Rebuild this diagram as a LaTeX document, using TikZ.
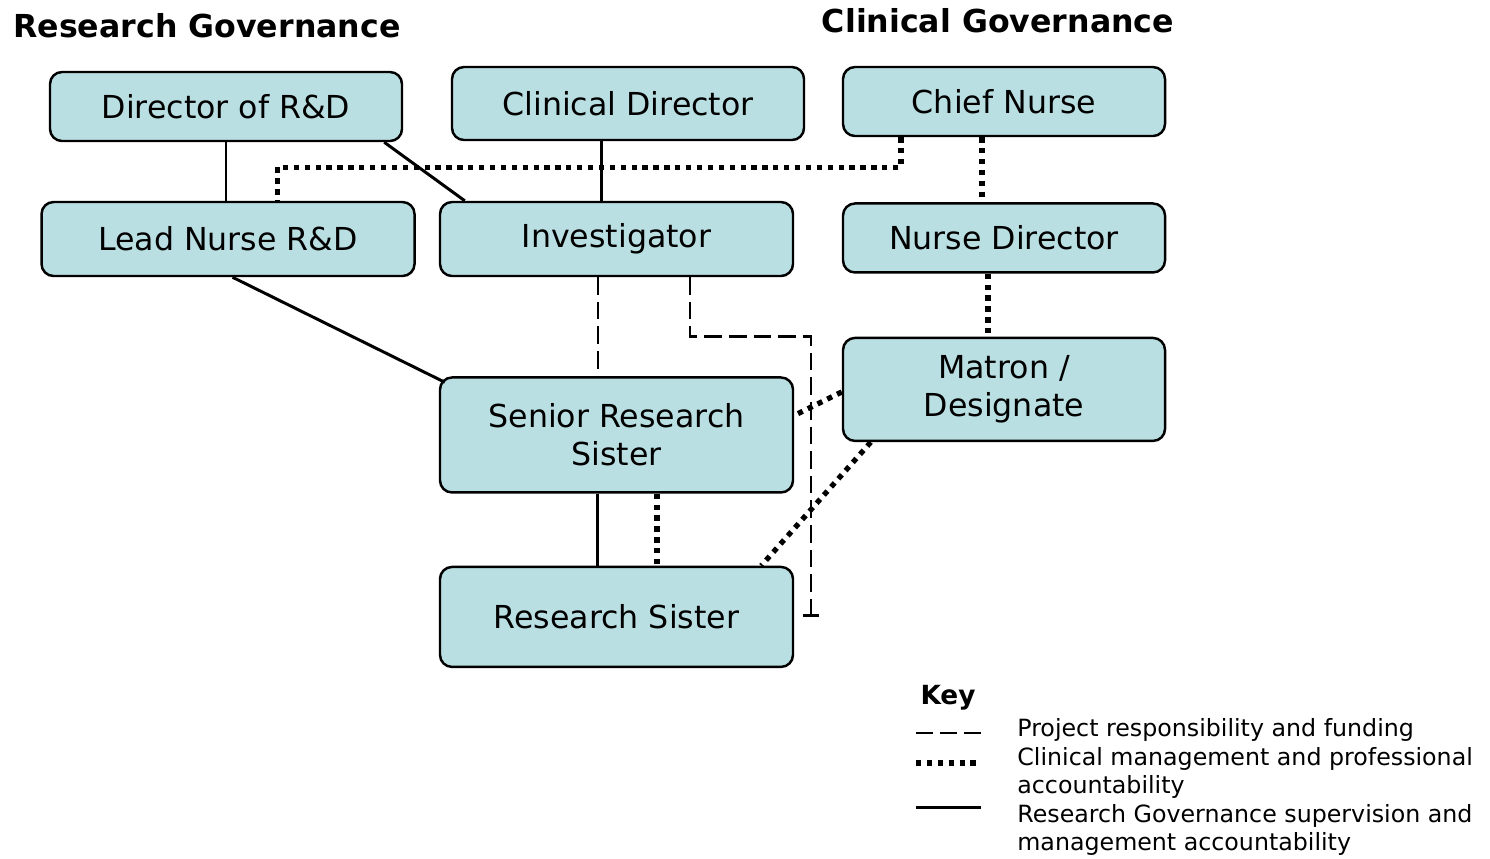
\documentclass[tikz,border=0pt]{standalone}
\usepackage{fontspec}
\setmainfont{DejaVu Sans}
\usepackage{tikz}
\usetikzlibrary{arrows.meta,calc,positioning}
\definecolor{boxfill}{HTML}{B9DFE2}

\begin{document}
\begin{tikzpicture}[auto,>=latex]
	\tikzstyle{block} = [draw, line width=1.4pt, rounded corners=0.24cm, fill=boxfill, align=center, font=\fontsize{18}{21.6}\selectfont]
	\tikzstyle{project} = [line width=1.4pt, dash pattern=on 10pt off 4pt]
	\tikzstyle{clinical} = [line width=3pt, dash pattern=on 3pt off 3.2pt]
	\tikzstyle{governance} = [line width=1.7pt]
	\tikzstyle{keytext} = [anchor=west, align=left, inner sep=0pt, font=\fontsize{13.5}{16.2}\selectfont]

	\useasboundingbox (0,0) rectangle (29.8,-17.16);

	\node [font=\fontsize{18}{21.6}\selectfont\bfseries] (rgtitle) at (4.14,-0.52) {Research Governance};
	\node [font=\fontsize{18}{21.6}\selectfont\bfseries] (cgtitle) at (19.96,-0.42) {Clinical Governance};

	\node [block, minimum width=7.04cm, minimum height=1.38cm] (dirrd) at (4.52,-2.13) {Director of R\&D};
	\node [block, minimum width=7.04cm, minimum height=1.46cm] (clindir) at (12.56,-2.07) {Clinical Director};
	\node [block, minimum width=6.44cm, minimum height=1.38cm] (chief) at (20.08,-2.03) {Chief Nurse};

	\node [block, minimum width=7.06cm, minimum height=1.48cm] (invest) at (12.33,-4.78) {Investigator};
	\node [block, minimum width=7.46cm, minimum height=1.48cm, left = 0.46cm of invest] (lead) {Lead Nurse R\&D};
	\node [block, minimum width=6.44cm, minimum height=1.38cm, below = 1.3cm of chief] (nursedir) {Nurse Director};
	\node [block, minimum width=6.44cm, minimum height=2.06cm, below = 1.26cm of nursedir] (matron) {Matron /\\ Designate};
	\node [block, minimum width=7.06cm, minimum height=2.3cm, below = 1.98cm of invest] (senior) {Senior Research\\ Sister};
	\node [block, minimum width=7.06cm, minimum height=2.0cm, below = 1.44cm of senior] (rsister) {Research Sister};

	% research governance lines
	\draw [governance] (dirrd.south) -- (dirrd.south |- lead.north);
	\draw [governance] ([xshift=-0.38cm]dirrd.south east) -- ([xshift=0.52cm]invest.north west);
	\draw [governance] ([xshift=-0.54cm]clindir.south) -- ([xshift=-0.54cm]clindir.south |- invest.north);
	\draw [governance] ([xshift=0.09cm]lead.south) -- ([shift={(0.12cm,-0.12cm)}]senior.north west);
	\draw [governance] ([xshift=-0.39cm]senior.south) -- ([xshift=-0.39cm]senior.south |- rsister.north);

	% clinical lines
	\draw [clinical] ([xshift=-2.06cm]chief.south) -- ++(0,-0.6) -| ([xshift=0.99cm]lead.north);
	\draw [clinical] ([xshift=-0.44cm]chief.south) -- ([xshift=-0.44cm]chief.south |- nursedir.north);
	\draw [clinical] ([xshift=-0.32cm]nursedir.south) -- ([xshift=-0.32cm]nursedir.south |- matron.north);
	\draw [clinical] ([yshift=-0.05cm]matron.west) -- ([yshift=0.39cm]senior.east);
	\draw [clinical] ([xshift=0.58cm]matron.south west) -- ([xshift=-0.66cm]rsister.north east);
	\draw [clinical] ([xshift=0.81cm]senior.south) -- ([xshift=0.81cm]senior.south |- rsister.north);

	% project lines
	\coordinate (turn) at ($(rsister.east |- matron.north)+(0.34,0)$);
	\draw [project] ([xshift=-0.37cm]invest.south) -- ([xshift=-0.37cm]invest.south |- senior.north);
	\draw [project, -{Bar[width=0.32cm, line width=1.4pt]}] ([xshift=1.47cm]invest.south) |- (turn) -- ([xshift=0.34cm]rsister.east);

	% key
	\node [font=\fontsize{15}{18}\selectfont\bfseries] (key) at (18.96,-13.96) {Key};
	\coordinate (k1a) at (18.32,-14.66);
	\coordinate (k1b) at (19.62,-14.66);
	\coordinate (k2a) at (18.32,-15.26);
	\coordinate (k2b) at (19.62,-15.26);
	\coordinate (k3a) at (18.32,-16.14);
	\coordinate (k3b) at (19.62,-16.14);
	\draw [project, dash pattern=on 9.6pt off 4pt] (k1a) -- (k1b);
	\draw [clinical] (k2a) -- (k2b);
	\draw [governance] (k3a) -- (k3b);
	\node [keytext] (key1) at (20.34,-14.6) {Project responsibility and funding};
	\node [keytext] (key2) at (20.34,-15.46) {Clinical management and professional\\ accountability};
	\node [keytext] (key3) at (20.34,-16.6) {Research Governance supervision and\\ management accountability};

\end{tikzpicture}
\end{document}
